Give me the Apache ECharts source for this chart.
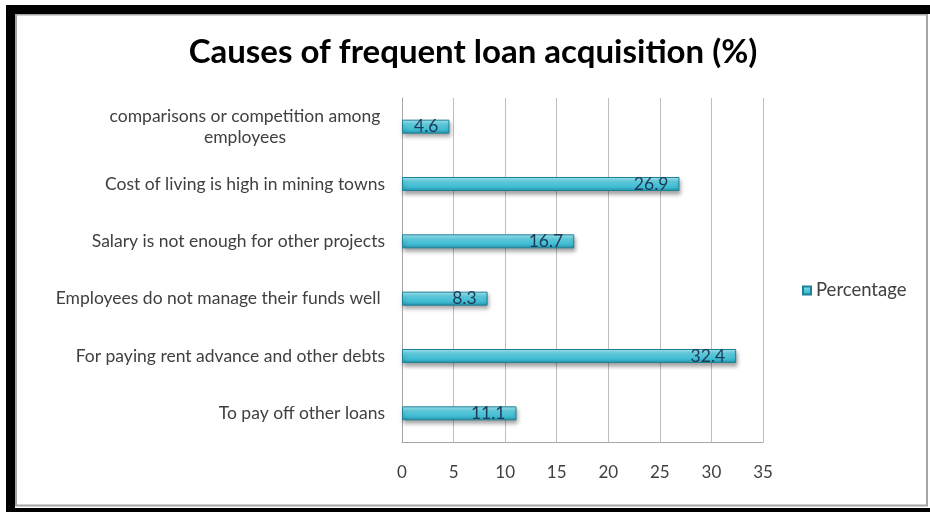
<!DOCTYPE html>
<html>
<head>
<meta charset="utf-8">
<script src="https://cdn.jsdelivr.net/npm/echarts@6/dist/echarts.min.js"></script>
<style>
  html, body { margin: 0; padding: 0; background: #ffffff; }
  #chart { width: 930px; height: 512px; }
</style>
</head>
<body>
<div id="chart"></div>
<script>
// Causes listed top to bottom
const categories = [
  'comparisons or competition among\nemployees',
  'Cost of living is high in mining towns',
  'Salary is not enough for other projects',
  'Employees do not manage their funds well ',
  'For paying rent advance and other debts',
  'To pay off other loans'
];
const percentages = [4.6, 26.9, 16.7, 8.3, 32.4, 11.1];
const xTicks = [0, 5, 10, 15, 20, 25, 30, 35];
const seriesName = 'Percentage';
const titleText = 'Causes of frequent loan acquisition (%)';

const FONT = 'Lato, "Open Sans", sans-serif';
const chart = echarts.init(document.getElementById('chart'), null, { renderer: 'canvas' });

const barFill = new echarts.graphic.LinearGradient(0, 0, 0, 1, [
  { offset: 0, color: '#a6ecf6' },
  { offset: 0.35, color: '#5fd0e2' },
  { offset: 0.75, color: '#3cb8cf' },
  { offset: 1, color: '#2590a6' }
]);

chart.setOption({
  animation: false,
  backgroundColor: '#ffffff',
  title: {
    text: titleText,
    left: 468,
    top: 31,
    textAlign: 'center',
    textStyle: { fontFamily: FONT, fontSize: 33, fontWeight: 'bold', color: '#000000' }
  },
  legend: {
    data: [seriesName],
    left: 802,
    top: 281,
    padding: 0,
    icon: 'rect',
    itemWidth: 8,
    itemHeight: 8,
    itemGap: 3,
    textStyle: { fontFamily: FONT, fontSize: 18.5, color: '#404040' }
  },
  grid: { left: 402, right: 167, top: 98, bottom: 70, containLabel: false },
  xAxis: {
    type: 'value',
    min: xTicks[0],
    max: xTicks[xTicks.length - 1],
    interval: xTicks[1] - xTicks[0],
    axisLine: { show: true, lineStyle: { color: '#a6a6a6', width: 1 } },
    axisTick: { show: false },
    splitLine: { show: true, lineStyle: { color: '#bfbfbf', width: 1 } },
    axisLabel: { fontFamily: FONT, fontSize: 17, color: '#404040', margin: 22 }
  },
  yAxis: {
    type: 'category',
    inverse: true,
    data: categories,
    axisLine: { show: true, lineStyle: { color: '#a6a6a6', width: 1 } },
    axisTick: { show: false },
    axisLabel: {
      fontFamily: FONT, fontSize: 17.5, color: '#404040', margin: 17, lineHeight: 21,
      formatter: function (v) {
        if (v.indexOf('\n') >= 0) {
          return v.split('\n').map(function (s) { return '{c|' + s + '}'; }).join('\n');
        }
        return v;
      },
      rich: {
        c: { fontFamily: FONT, fontSize: 17.5, color: '#404040', align: 'center', width: 280, lineHeight: 21 }
      }
    }
  },
  series: [{
    name: seriesName,
    type: 'bar',
    data: percentages,
    barWidth: 14,
    itemStyle: {
      color: barFill,
      borderColor: '#1f8096',
      borderWidth: 1,
      shadowColor: 'rgba(0,0,0,0.35)',
      shadowBlur: 4,
      shadowOffsetY: 3,
      shadowOffsetX: 1
    },
    label: {
      show: true,
      position: 'insideRight',
      distance: 11,
      fontFamily: FONT,
      fontSize: 17.5,
      color: '#1d3a57'
    }
  }],
  graphic: [
    {
      type: 'rect', silent: true, z: 100,
      shape: { x: 10.5, y: 9.5, width: 925, height: 503 },
      style: { fill: 'none', stroke: '#000000', lineWidth: 9 }
    },
    {
      type: 'rect', silent: true, z: 99,
      shape: { x: 16, y: 14.5, width: 911, height: 491 },
      style: { fill: 'none', stroke: '#a6a6a6', lineWidth: 2 }
    }
  ]
});
</script>
</body>
</html>
